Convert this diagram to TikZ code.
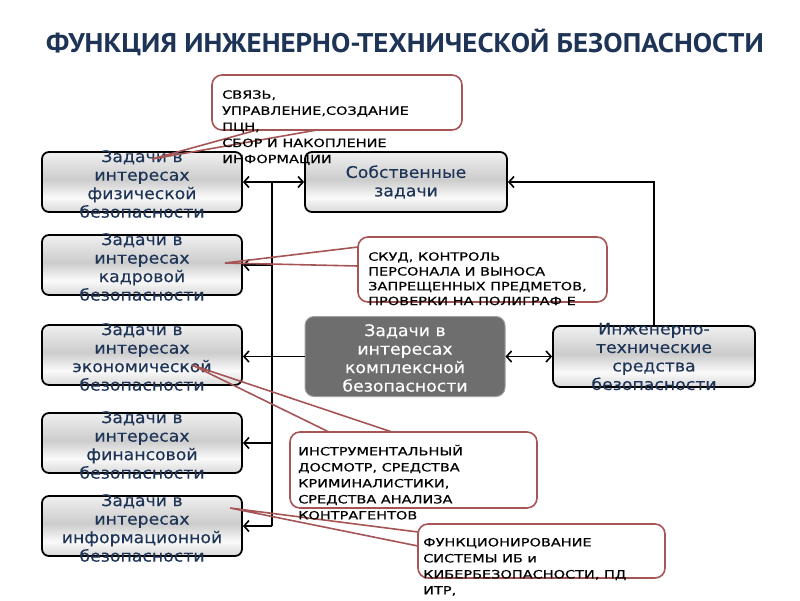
\documentclass[tikz,border=0pt]{standalone}
\usepackage{fontspec}
\setmainfont{DejaVu Sans}
\newfontfamily\titlefont[FakeStretch=1.07]{PT Sans}
\newfontfamily\boxfont[FakeStretch=1.08,FakeBold=0.3]{DejaVu Sans}
\newfontfamily\callfont[FakeStretch=1.27,FakeBold=0.5]{DejaVu Sans}
\usetikzlibrary{arrows.meta,calc}
\definecolor{navy}{RGB}{30,52,86}
\definecolor{callred}{RGB}{165,85,85}
\definecolor{cplxgray}{RGB}{110,110,110}
\pgfdeclareverticalshading{boxshade}{100bp}{color(0bp)=(gray!30); color(25bp)=(gray!30); color(37bp)=(gray!4); color(52bp)=(gray!40); color(75bp)=(gray!12); color(100bp)=(gray!12)}
\begin{document}
\begin{tikzpicture}[x=1pt,y=-1pt,
  graybox/.style={draw=black, line width=1.8pt, rounded corners=7pt, shade, shading=boxshade, minimum width=200pt, minimum height=60pt, inner sep=0pt},
  boxtext/.style={font=\boxfont\fontsize{16}{18.5}\selectfont, text=navy, align=center, inner sep=0pt},
  callout/.style={draw=callred, line width=1.6pt, rounded corners=10pt, fill=white, inner sep=0pt},
  calltext/.style={align=left, anchor=north west, inner sep=0pt},
  conn/.style={line width=1.6pt, draw=black},
  ptr/.style={draw=callred, line width=1.6pt},
  >={Straight Barb[length=5pt,width=11pt]}
]
\useasboundingbox (0,0) rectangle (800,600);

% title
\node[font=\titlefont\bfseries\fontsize{27}{30}\selectfont, text=navy] (title) at (405,42) {ФУНКЦИЯ ИНЖЕНЕРНО-ТЕХНИЧЕСКОЙ БЕЗОПАСНОСТИ};

% boxes
\node[graybox] (b1) at (142,182) {};
\node[graybox] (b2) at (142,265) {};
\node[graybox] (b3) at (142,355) {};
\node[graybox] (b4) at (142,443) {};
\node[graybox] (b5) at (142,526) {};
\node[graybox, minimum width=202pt] (own) at (406,182) {};
\node[graybox, minimum width=202pt, minimum height=61pt] (eng) at (654,356.5) {};
\node[draw=gray!75, line width=1pt, fill=cplxgray, rounded corners=9pt, minimum width=200pt, minimum height=80pt] (cplx) at (405,356.5) {};

% connectors
\coordinate (busTop) at (272,182);
\coordinate (busBot) at (272,526);
\draw[conn,<->] (b1.east) -- (own.west);
\draw[conn] (busTop) -- (busBot);
\draw[conn,->] (b2.east -| busTop) -- (b2.east);
\draw[conn,->] (cplx.west) -- (cplx.west -| b3.east);
\draw[conn,->] (b4.east -| busTop) -- (b4.east);
\draw[conn,->] (busBot) -- (b5.east);
\draw[conn,<->] (cplx.east) -- (eng.west);
\draw[conn,->] (eng.north) |- (own.east);

% box texts
\node[boxtext] (t1) at ($(b1.center)+(0,2)$) {Задачи в\\интересах\\физической\\безопасности};
\node[boxtext] (t2) at ($(b2.center)+(0,2)$) {Задачи в\\интересах\\кадровой\\безопасности};
\node[boxtext] (t3) at ($(b3.center)+(0,2)$) {Задачи в\\интересах\\экономической\\безопасности};
\node[boxtext] (t4) at ($(b4.center)+(0,2)$) {Задачи в\\интересах\\финансовой\\безопасности};
\node[boxtext] (t5) at ($(b5.center)+(0,2)$) {Задачи в\\интересах\\информационной\\безопасности};
\node[boxtext] (tOwn) at (own.center) {Собственные\\задачи};
\node[boxtext] (tEng) at (eng.center) {Инженерно-\\технические\\средства\\безопасности};
\node[boxtext, text=white] (tCplx) at ($(cplx.center)+(0,1.5)$) {Задачи в\\интересах\\комплексной\\безопасности};

% callouts
\node[callout, minimum width=250pt, minimum height=55pt] (c1) at (337,102.5) {};
\node[callout, minimum width=249pt, minimum height=65pt] (c2) at (482.5,269.5) {};
\node[callout, minimum width=247pt, minimum height=76pt] (c3) at (413.5,470) {};
\node[callout, minimum width=247pt, minimum height=54pt] (c4) at (541.5,551) {};

% pointers
\coordinate (p1) at (152,159);
\coordinate (p2) at (225,263);
\coordinate (p3) at (192,365);
\coordinate (p4) at (230,508);
\draw[ptr] (257,130) -- (p1) -- (317,130);
\draw[ptr] (358,247) -- (p2) -- (358,266);
\draw[ptr] (329,432) -- (p3) -- (392,432);
\draw[ptr] (418,532) -- (p4) -- (418,546);

% callout texts
\node[calltext, font=\callfont\fontsize{11.4}{16.1}\selectfont] (ct1) at (222,86.5) {\rule{0pt}{12pt}СВЯЗЬ,\\УПРАВЛЕНИЕ,СОЗДАНИЕ\\ПЦН,\\СБОР И НАКОПЛЕНИЕ\\ИНФОРМАЦИИ};
\node[calltext, font=\callfont\fontsize{11.4}{14.8}\selectfont] (ct2) at (368,248.5) {\rule{0pt}{12pt}СКУД, КОНТРОЛЬ\\ПЕРСОНАЛА И ВЫНОСА\\ЗАПРЕЩЕННЫХ ПРЕДМЕТОВ,\\ПРОВЕРКИ НА ПОЛИГРАФ Е};
\node[calltext, font=\callfont\fontsize{11.4}{16}\selectfont] (ct3) at (298,443.2) {\rule{0pt}{12pt}ИНСТРУМЕНТАЛЬНЫЙ\\ДОСМОТР, СРЕДСТВА\\КРИМИНАЛИСТИКИ,\\СРЕДСТВА АНАЛИЗА\\КОНТРАГЕНТОВ};
\node[calltext, font=\callfont\fontsize{11.4}{16}\selectfont] (ct4) at (423,534.2) {\rule{0pt}{12pt}ФУНКЦИОНИРОВАНИЕ\\СИСТЕМЫ ИБ и\\КИБЕРБЕЗОПАСНОСТИ, ПД\\ИТР,};
\end{tikzpicture}
\end{document}
